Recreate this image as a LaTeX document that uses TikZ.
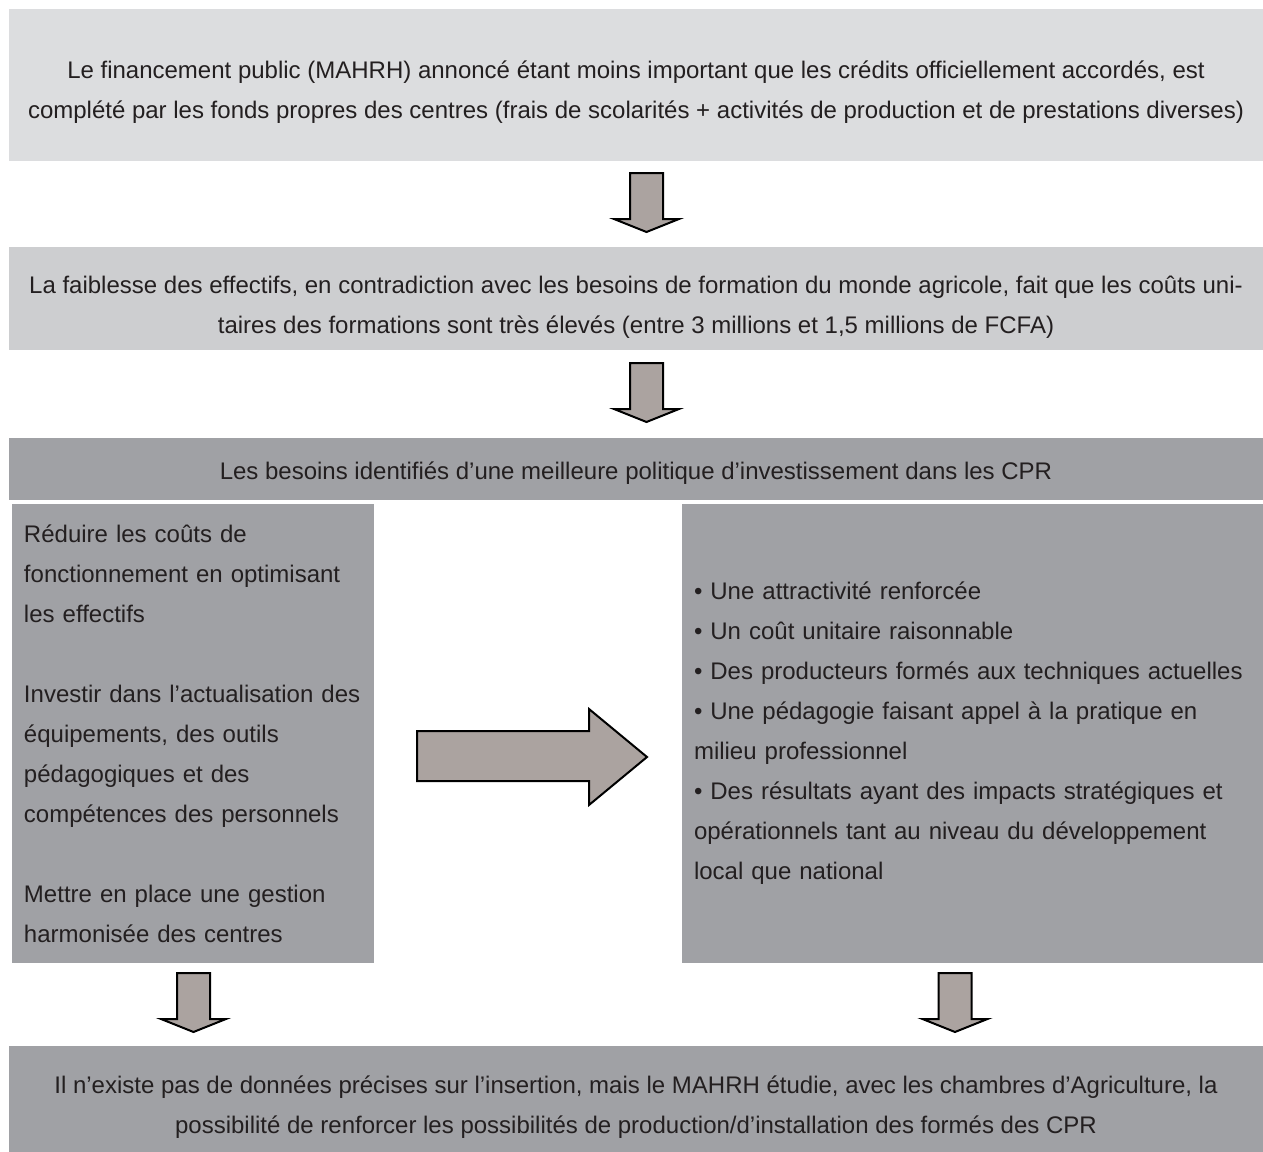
\documentclass[tikz,border=0pt]{standalone}
\usepackage{fontspec}
\setmainfont{Liberation Sans}
\definecolor{grisclair}{HTML}{DCDDDF}
\definecolor{grismoyen}{HTML}{CDCED0}
\definecolor{grisfonce}{HTML}{A0A1A5}
\definecolor{grisfleche}{HTML}{ABA3A0}
\definecolor{encre}{HTML}{231F20}
\tikzset{
  texte/.style={inner sep=0pt, text=encre, font=\fontsize{12}{20}\selectfont, align=center},
  bande/.style={rectangle, inner sep=0pt, minimum width=627pt},
  colonne/.style={texte, rectangle, fill=grisfonce, align=left, inner xsep=6pt,
    minimum height=229.5pt},
  fleche/.style={fill=grisfleche, draw=black, line width=1pt, line join=miter},
}
\begin{document}
\begin{tikzpicture}[x=0.5pt, y=-0.5pt]
  \path[use as bounding box, clip] (0,0) rectangle (1263,1151);
  \fill[white] (0,0) rectangle (1263,1151);
  % bandes pleine largeur
  \node[bande, fill=grisclair, minimum height=76pt] (fin) at (636,85) {};
  \node[texte] (fin-t) at ([yshift=-3.5pt]fin.center)
    {Le financement public (MAHRH) annoncé étant moins important que les crédits officiellement accordés, est\\
     complété par les fonds propres des centres (frais de scolarités + activités de production et de prestations diverses)};
  \node[bande, fill=grismoyen, minimum height=51.5pt] (faib) at (636,298.5) {};
  \node[texte] (faib-t) at ([yshift=-4.5pt]faib.center)
    {La faiblesse des effectifs, en contradiction avec les besoins de formation du monde agricole, fait que les coûts uni-\\
     taires des formations sont très élevés (entre 3 millions et 1,5 millions de FCFA)};
  \node[bande, fill=grisfonce, minimum height=31pt] (besoins) at (636,469) {};
  \node[texte] (besoins-t) at ([yshift=-2pt]besoins.center)
    {Les besoins identifiés d’une meilleure politique d’investissement dans les CPR};
  \node[bande, fill=grisfonce, minimum height=59.5pt] (insertion) at (636,1105.5) {};
  \node[texte] (insertion-t) at ([yshift=-1pt]insertion.center)
    {Il n’existe pas de données précises sur l’insertion, mais le MAHRH étudie, avec les chambres d’Agriculture, la\\
     possibilité de renforcer les possibilités de production/d’installation des formés des CPR};
  % colonnes
  \node[colonne, text width=169pt] (actions) at (193,733.5)
    {Réduire les coûts de\\ fonctionnement en optimisant\\ les effectifs\\[20pt]
     Investir dans l’actualisation des\\ équipements, des outils\\ pédagogiques et des\\ compétences des personnels\\[20pt]
     Mettre en place une gestion\\ harmonisée des centres};
  \node[colonne, text width=278.5pt] (effets) at (972.5,733.5)
    {• Une attractivité renforcée\\ • Un coût unitaire raisonnable\\ • Des producteurs formés aux techniques actuelles\\
     • Une pédagogie faisant appel à la pratique en\\ milieu professionnel\\
     • Des résultats ayant des impacts stratégiques et\\ opérationnels tant au niveau du développement\\ local que national};
  % fleches
  \foreach \cx/\ty in {646.5/173, 646.5/363, 193.5/973, 955/973}
    \draw[fleche] (\cx-16.5,\ty) -- ++(33,0) -- ++(0,46) -- ++(16,0)
      -- ++(-32.5,13) -- ++(-32.5,-13) -- ++(16,0) -- cycle;
  \draw[fleche] (417,731) -- (589,731) -- (589,709) -- (647,757)
    -- (589,805) -- (589,781) -- (417,781) -- cycle;
\end{tikzpicture}
\end{document}
